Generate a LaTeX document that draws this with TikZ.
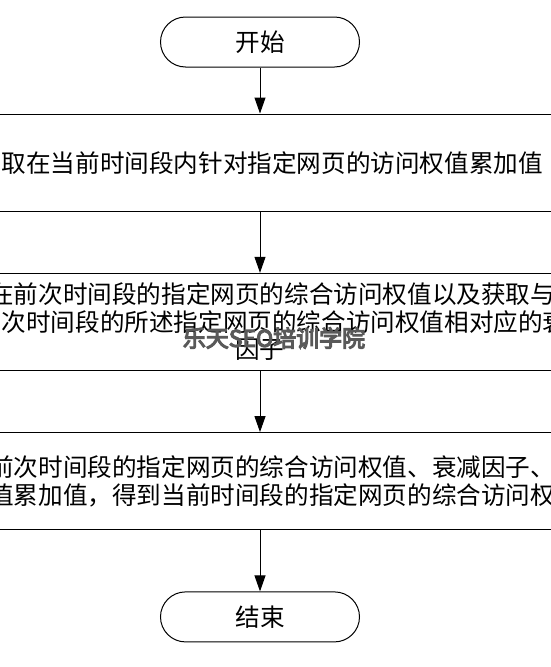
\documentclass[tikz,border=0pt]{standalone}
\usepackage{fontspec}
\usepackage{xcolor}
\usetikzlibrary{arrows.meta, positioning}
\newfontfamily\cjk{Noto Sans CJK SC}
\newfontfamily\markfont[FakeBold=5]{Noto Sans CJK SC}

\begin{document}
\begin{tikzpicture}[
    node distance=61pt,
    every node/.style={font=\cjk\fontsize{24.6}{27.5}\selectfont},
    term/.style={rectangle, draw, rounded corners=25pt, line width=1pt, minimum width=199pt, minimum height=50pt},
    box/.style={rectangle, draw, line width=1.3pt, minimum width=720pt, minimum height=97pt, align=center, inner sep=0pt},
    arrow/.style={-{Triangle[length=16pt, width=11pt]}, line width=1pt}
  ]
    \useasboundingbox (0,0) rectangle (551pt,-667pt);
    \clip (0,0) rectangle (551pt,-667pt);
    \node[term] (start) at (260pt,-42pt) {开始};
    \node[box, below=46pt of start] (acc) {\phantom{获}取在当前时间段内针对指定网页的访问权值累加值};
    \node[box, below=of acc] (prev) {\phantom{获}在前次时间段的指定网页的综合访问权值以及获取与\\\phantom{与前}次时间段的所述指定网页的综合访问权值相对应的衰\\因子};
    \node[box, below=of prev] (sum) {\phantom{获}前次时间段的指定网页的综合访问权值、衰减因子、\\\phantom{获}值累加值，得到当前时间段的指定网页的综合访问权};
    \node[term, below=of sum] (stop) {结束};
    \node[text=black!65, font=\markfont\fontsize{23}{23}\selectfont] (mark) at (274pt,-338pt) {乐天SEO培训学院};

    \draw[arrow] (start) -- (acc);
    \draw[arrow] (acc) -- (prev);
    \draw[arrow] (prev) -- (sum);
    \draw[arrow] (sum) -- (stop);
  \end{tikzpicture}
\end{document}
